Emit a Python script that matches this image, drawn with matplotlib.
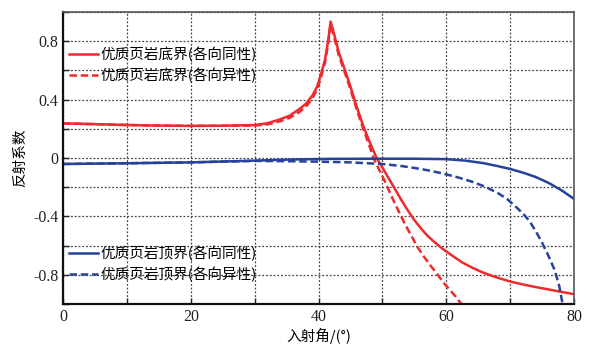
import numpy as np
import matplotlib
matplotlib.use("Agg")
import matplotlib.pyplot as plt

plt.rcParams['font.family'] = ['Noto Sans CJK SC', 'DejaVu Sans']
plt.rcParams['font.serif'] = ['Liberation Serif', 'DejaVu Serif']
plt.rcParams['axes.unicode_minus'] = False

# incidence angle (deg) and reflection coefficient
bot_iso_x = [0, 5, 10, 15, 20, 25, 30, 32, 34, 35.5, 37, 38, 39, 39.8, 40.5, 41,
             41.5, 41.9, 42.5, 43.2, 44, 45, 46, 47, 48, 49.1, 50, 51, 52, 53,
             54, 55, 56, 57, 58, 59, 60, 61.3, 62.5, 64, 65.5, 67, 68.5, 70,
             72, 74, 76, 78, 80]
bot_iso_y = [0.237, 0.232, 0.226, 0.222, 0.22, 0.221, 0.226, 0.238, 0.265, 0.29,
             0.335, 0.37, 0.425, 0.49, 0.59, 0.67, 0.8, 0.935, 0.84, 0.72, 0.62,
             0.49, 0.35, 0.22, 0.11, 0.0, -0.065, -0.14, -0.215, -0.29, -0.36,
             -0.425, -0.48, -0.53, -0.57, -0.607, -0.64, -0.68, -0.715, -0.75,
             -0.78, -0.805, -0.826, -0.846, -0.866, -0.884, -0.9, -0.917, -0.932]

bot_ani_x = [0, 5, 10, 15, 20, 25, 30, 32, 34, 35.5, 37, 38, 39, 39.8, 40.5, 41,
             41.5, 41.9, 42.5, 43.2, 44, 45, 46, 47, 48, 48.6, 49.5, 50.5, 51.4,
             52.5, 53.5, 54.5, 55.5, 56.5, 57.5, 58.5, 59.5, 60.5, 61.5, 62.7]
bot_ani_y = [0.237, 0.232, 0.226, 0.222, 0.22, 0.221, 0.222, 0.23, 0.252, 0.275,
             0.315, 0.35, 0.405, 0.47, 0.57, 0.65, 0.78, 0.915, 0.82, 0.70, 0.6,
             0.47, 0.33, 0.2, 0.08, 0.0, -0.08, -0.17, -0.26, -0.36, -0.45,
             -0.53, -0.61, -0.675, -0.735, -0.79, -0.85, -0.9, -0.95, -1.02]

top_iso_x = [0, 10, 20, 30, 36, 42, 50, 55, 60, 63, 65.8, 68, 70, 72, 74, 76,
             78, 80]
top_iso_y = [-0.041, -0.036, -0.03, -0.018, -0.01, -0.006, -0.005, -0.005,
             -0.008, -0.018, -0.035, -0.055, -0.075, -0.1, -0.13, -0.17,
             -0.22, -0.28]

top_ani_x = [0, 10, 20, 30, 35, 40, 45, 50, 53, 56, 58, 60, 62, 64, 66, 68,
             69.5, 70.8, 72, 73, 74, 75, 76, 77, 77.7, 78.3]
top_ani_y = [-0.041, -0.036, -0.03, -0.02, -0.022, -0.025, -0.03, -0.041,
             -0.055, -0.075, -0.092, -0.112, -0.135, -0.162, -0.195, -0.238,
             -0.28, -0.33, -0.38, -0.43, -0.5, -0.58, -0.67, -0.77, -0.88,
             -1.02]

x_ticks = ['0', '', '20', '', '40', '', '60', '', '80']
y_ticks = ['', '-0.8', '', '-0.4', '', '0', '', '0.4', '', '0.8', '']

red = '#ee2a2e'
blue = '#26429a'

fig = plt.figure(figsize=(5.96, 3.48), dpi=100)
ax = fig.add_axes([63/596, 1-304/348, 511/596, 292/348])

dash = (0, (3.0, 1.5))
l1, = ax.plot(bot_iso_x, bot_iso_y, color=red, lw=1.8)
l2, = ax.plot(bot_ani_x, bot_ani_y, color=red, lw=1.8, ls=dash)
l3, = ax.plot(top_iso_x, top_iso_y, color=blue, lw=1.8)
l4, = ax.plot(top_ani_x, top_ani_y, color=blue, lw=1.8, ls=dash)

ax.set_xlim(0, 80)
ax.set_ylim(-1, 1)
ax.set_xticks(np.arange(0, 81, 10))
ax.set_xticklabels(x_ticks, family='serif', fontsize=11.5)
ax.set_yticks(np.arange(-1, 1.01, 0.2))
ax.set_yticklabels(y_ticks, family='serif', fontsize=11.5)
ax.tick_params(direction='in', length=4, width=1, colors='#222')
ax.grid(True, color='#444', ls=(0, (1.5, 1.5)), lw=0.9)

for s in ['left', 'bottom']:
    ax.spines[s].set_linewidth(1.6)
    ax.spines[s].set_color('#111')
for s in ['top', 'right']:
    ax.spines[s].set_linewidth(1.2)
    ax.spines[s].set_color('#555')

ax.set_xlabel('入射角/(°)', fontsize=10.5, labelpad=2)
ax.set_ylabel('反射系数', fontsize=10.5, labelpad=4)

leg1 = ax.legend([l1, l2], ['优质页岩底界(各向同性)', '优质页岩底界(各向异性)'],
                 loc='upper left', bbox_to_anchor=(0.0, 0.9), frameon=False,
                 fontsize=10.5, handlelength=2.0, handletextpad=0.2,
                 labelspacing=0.35, borderpad=0.2, borderaxespad=0.2)
ax.add_artist(leg1)
ax.legend([l3, l4], ['优质页岩顶界(各向同性)', '优质页岩顶界(各向异性)'],
          loc='upper left', bbox_to_anchor=(0.0, 0.218), frameon=False,
          fontsize=10.5, handlelength=2.0, handletextpad=0.2,
          labelspacing=0.35, borderpad=0.2, borderaxespad=0.2)

fig.savefig('out.png', dpi=100)
